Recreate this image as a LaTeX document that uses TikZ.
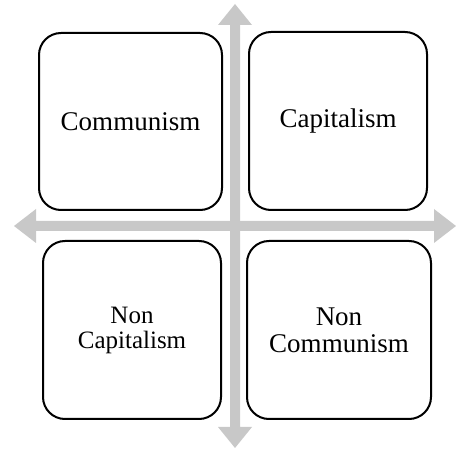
\documentclass[tikz,border=0pt]{standalone}
\usepackage{fontspec}
\setmainfont{Liberation Serif}
\begin{document}
\begin{tikzpicture}[x=1pt,y=-1pt,
  quad/.style={draw=black, line width=2pt, fill=white, rounded corners=22pt, align=center, inner sep=0pt},
  big/.style={font=\fontsize{27}{27}\selectfont},
  small/.style={font=\fontsize{25}{25}\selectfont}]
\definecolor{axisgray}{RGB}{200,200,200}
\useasboundingbox (0,0) rectangle (456,449);
% horizontal double arrow
\fill[axisgray] (14,226) -- (36,209) -- (36,221) -- (434,221) -- (434,209) -- (456,226) -- (434,243) -- (434,231) -- (36,231) -- (36,243) -- cycle;
% vertical double arrow
\fill[axisgray] (235,4) -- (252,25) -- (240,25) -- (240,427) -- (252,427) -- (235,448) -- (218,427) -- (230,427) -- (230,25) -- (218,25) -- cycle;
% quadrants
\node[quad, big, minimum width=183pt, minimum height=177pt] (comm) at (130.5,121.5) {Communism};
\node[quad, big, minimum width=178pt, minimum height=178pt] (cap) at (338,121) {Capitalism};
\node[quad, small, minimum width=178pt, minimum height=178pt] (noncap) at (132,330) {Non\\Capitalism};
\node[quad, big, minimum width=184pt, minimum height=178pt] (noncomm) at (339,330) {Non\\Communism};
\end{tikzpicture}
\end{document}
